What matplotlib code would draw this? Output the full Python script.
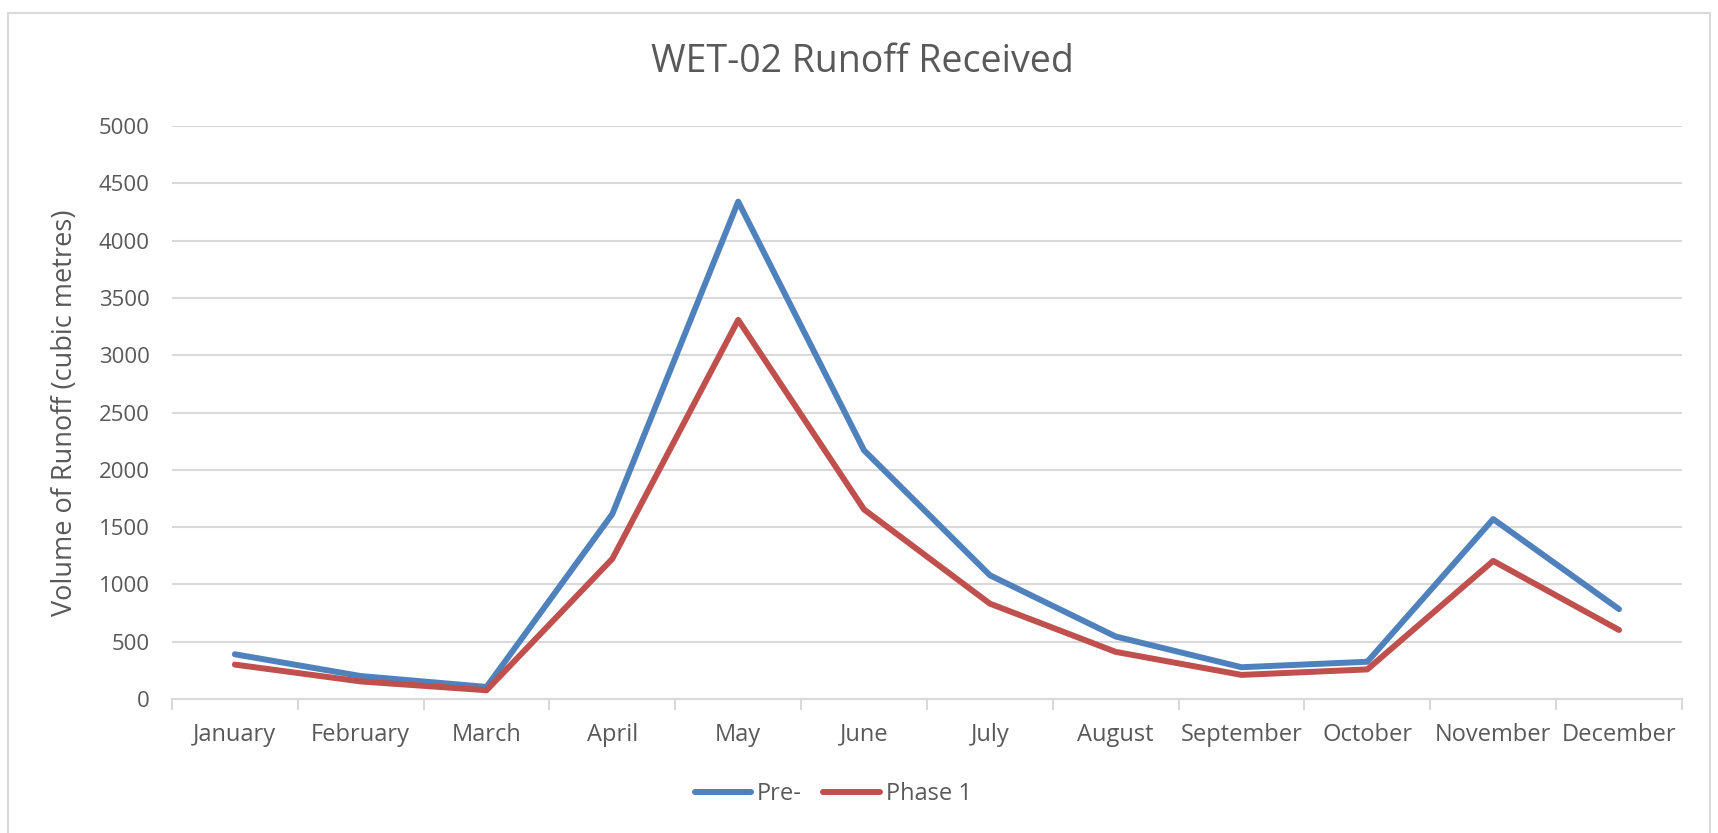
import matplotlib
matplotlib.use('Agg')
import matplotlib.pyplot as plt
from matplotlib.patches import Rectangle
import numpy as np

months = ['January', 'February', 'March', 'April', 'May', 'June', 'July',
          'August', 'September', 'October', 'November', 'December']
pre = [390, 200, 105, 1615, 4340, 2170, 1080, 545, 277, 325, 1570, 784]
phase1 = [300, 153, 76, 1224, 3308, 1654, 832, 411, 210, 258, 1205, 602]
yticks = [0, 500, 1000, 1500, 2000, 2500, 3000, 3500, 4000, 4500, 5000]

plt.rcParams['font.family'] = ['Open Sans', 'DejaVu Sans']
text_col = '#595959'
grid_col = '#D9D9D9'

fig = plt.figure(figsize=(17.18, 8.33), dpi=100)
# chart frame
fig.patches.append(Rectangle((8 / 1718, -0.05), 1708 / 1718 - 8 / 1718 + 0.001, 1.05 - 13 / 833,
                             transform=fig.transFigure, fill=False,
                             edgecolor=grid_col, linewidth=1.5))

ax = fig.add_axes([0.1001, 0.1609, 0.979 - 0.1001, 0.8487 - 0.1609])
x = np.arange(len(months))
ax.plot(x, pre, color='#4F81BD', linewidth=4.3, label='Pre-', solid_capstyle='round',
        solid_joinstyle='round')
ax.plot(x, phase1, color='#C0504D', linewidth=4.3, label='Phase 1', solid_capstyle='round',
        solid_joinstyle='round')

ax.set_xlim(-0.5, len(months) - 0.5)
ax.set_ylim(0, 5000)
ax.set_yticks(yticks)
ax.set_xticks(x)
ax.set_xticklabels(months)
ax.set_xticks(np.arange(-0.5, len(months)), minor=True)
ax.tick_params(axis='x', which='major', length=0, pad=17, labelsize=17, labelcolor=text_col)
ax.tick_params(axis='x', which='minor', length=8, width=1.5, color=grid_col)
ax.tick_params(axis='y', length=0, pad=16, labelsize=16, labelcolor=text_col)
ax.grid(axis='y', color=grid_col, linewidth=1.5)
ax.set_axisbelow(True)
for s in ['top', 'right', 'left']:
    ax.spines[s].set_visible(False)
ax.spines['bottom'].set_color(grid_col)
ax.spines['bottom'].set_linewidth(1.5)

ax.set_ylabel('Volume of Runoff (cubic metres)', fontsize=19.5, color=text_col, labelpad=14)
fig.text(0.502, 0.925, 'WET-02 Runoff Received', ha='center', va='center',
         fontsize=27, color=text_col)

fig.legend(loc='center', bbox_to_anchor=(0.485, 0.047), ncol=2, frameon=False,
           fontsize=17, labelcolor=text_col, handlelength=2.4, handletextpad=0.25,
           columnspacing=0.9)

fig.savefig('out.png', dpi=100)
